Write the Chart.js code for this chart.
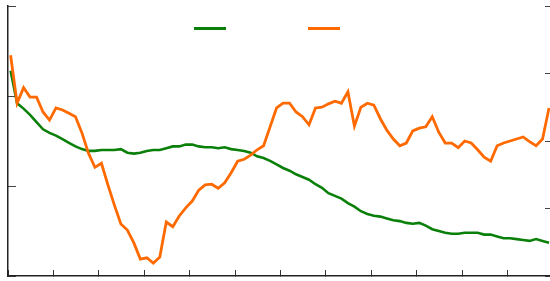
<!DOCTYPE html>
<html>
<head>
<meta charset="utf-8">
<script src="https://cdn.jsdelivr.net/npm/chart.js@4/dist/chart.umd.min.js"></script>
<style>
  html, body { margin: 0; padding: 0; background: #fff; }
  #wrap { width: 550px; height: 281px; }
</style>
</head>
<body>
<div id="wrap"><canvas id="lines"></canvas></div>
<script>
// green series (left axis, 0-30)
const greenValues = [
  22.8, 19.2, 18.6, 17.9, 17.1, 16.3, 15.9, 15.6, 15.2, 14.8,
  14.4, 14.1, 13.9, 13.9, 14.0, 14.0, 14.0, 14.1, 13.7, 13.6,
  13.7, 13.9, 14.0, 14.0, 14.2, 14.4, 14.4, 14.6, 14.6, 14.4,
  14.3, 14.3, 14.2, 14.3, 14.1, 14.0, 13.9, 13.7, 13.3, 13.1,
  12.8, 12.4, 12.0, 11.7, 11.3, 11.0, 10.7, 10.2, 9.8, 9.2,
  8.9, 8.6, 8.1, 7.7, 7.2, 6.9, 6.7, 6.6, 6.4, 6.2,
  6.1, 5.9, 5.8, 5.9, 5.6, 5.2, 5.0, 4.8, 4.7, 4.7,
  4.8, 4.8, 4.8, 4.6, 4.6, 4.4, 4.2, 4.2, 4.1, 4.0,
  3.9, 4.1, 3.9, 3.7
];
// orange series (right axis, 0-40)
const orangeValues = [
  32.7, 25.6, 27.9, 26.5, 26.5, 24.3, 23.1, 24.9, 24.6, 24.1,
  23.6, 21.2, 18.2, 16.1, 16.7, 13.5, 10.5, 7.7, 6.8, 4.9,
  2.5, 2.7, 1.9, 2.8, 8.0, 7.3, 8.9, 10.1, 11.1, 12.7,
  13.5, 13.6, 13.0, 13.8, 15.3, 17.0, 17.3, 17.9, 18.7, 19.3,
  22.1, 24.9, 25.6, 25.6, 24.3, 23.6, 22.4, 24.9, 25.0, 25.5,
  25.9, 25.6, 27.3, 22.2, 25.0, 25.6, 25.3, 23.3, 21.6, 20.3,
  19.3, 19.7, 21.5, 21.9, 22.1, 23.6, 21.3, 19.7, 19.7, 19.0,
  20.0, 19.7, 18.7, 17.6, 17.0, 19.3, 19.7, 20.0, 20.3, 20.6,
  19.9, 19.3, 20.3, 24.9
];
// x ticks every 7 days, samples sit a bit after the tick
const dayOffset = 0.4;
const lastDay = 83.55;
const tickStep = 7;
const leftMax = 30, rightMax = 40;

const toPoints = vals => vals.map((v, i) => ({ x: i + dayOffset, y: v }));

// legend takes no room in the layout; put it inside the plot like the original
const legendSpot = {
  id: 'legendSpot',
  afterLayout(chart) {
    const lg = chart.legend, ca = chart.chartArea;
    if (!lg) return;
    lg.left = ca.left - 9;
    lg.right = ca.right - 9;
    lg.width = lg.right - lg.left;
    lg.top = ca.top - 59.5;
    lg.bottom = lg.top + 120;
    lg.height = 120;
  }
};

const ctx = document.getElementById('lines').getContext('2d');
new Chart(ctx, {
  type: 'line',
  data: {
    datasets: [
      {
        label: '',
        data: toPoints(greenValues),
        borderColor: '#0a800a',
        backgroundColor: '#0a800a',
        borderWidth: 2.6,
        pointRadius: 0,
        yAxisID: 'y',
        order: 1
      },
      {
        label: '',
        data: toPoints(orangeValues),
        borderColor: '#ff6a00',
        backgroundColor: '#ff6a00',
        borderWidth: 2.8,
        pointRadius: 0,
        yAxisID: 'y1',
        order: 0
      }
    ]
  },
  options: {
    responsive: true,
    maintainAspectRatio: false,
    animation: false,
    layout: { padding: { top: 6 } },
    scales: {
      x: {
        type: 'linear',
        min: 0,
        max: lastDay,
        ticks: { display: false, stepSize: tickStep, includeBounds: false },
        grid: { drawOnChartArea: false, tickLength: -6, color: '#333' },
        border: { color: '#222', width: 1.5 },
        afterFit: s => { s.height = 5; }
      },
      y: {
        position: 'left',
        min: 0,
        max: leftMax,
        ticks: { display: false, stepSize: 10 },
        grid: { drawOnChartArea: false, tickLength: -8, color: '#444' },
        border: { color: '#222', width: 1.5 },
        afterFit: s => { s.width = 8; }
      },
      y1: {
        position: 'right',
        min: 0,
        max: rightMax,
        ticks: { display: false, stepSize: 10 },
        grid: { drawOnChartArea: false, tickLength: -5, color: '#444' },
        border: { display: false },
        afterFit: s => { s.width = 0; }
      }
    },
    plugins: {
      legend: {
        position: 'top',
        maxHeight: 0.01,
        labels: {
          boxWidth: 32,
          boxHeight: 3,
          padding: 76,
          font: { size: 12 },
          generateLabels: chart => chart.data.datasets.map((ds, i) => ({
            text: '',
            fillStyle: ds.borderColor,
            strokeStyle: ds.borderColor,
            lineWidth: 0,
            hidden: false,
            datasetIndex: i
          }))
        }
      },
      tooltip: { enabled: false }
    }
  },
  plugins: [legendSpot]
});
</script>
</body>
</html>
